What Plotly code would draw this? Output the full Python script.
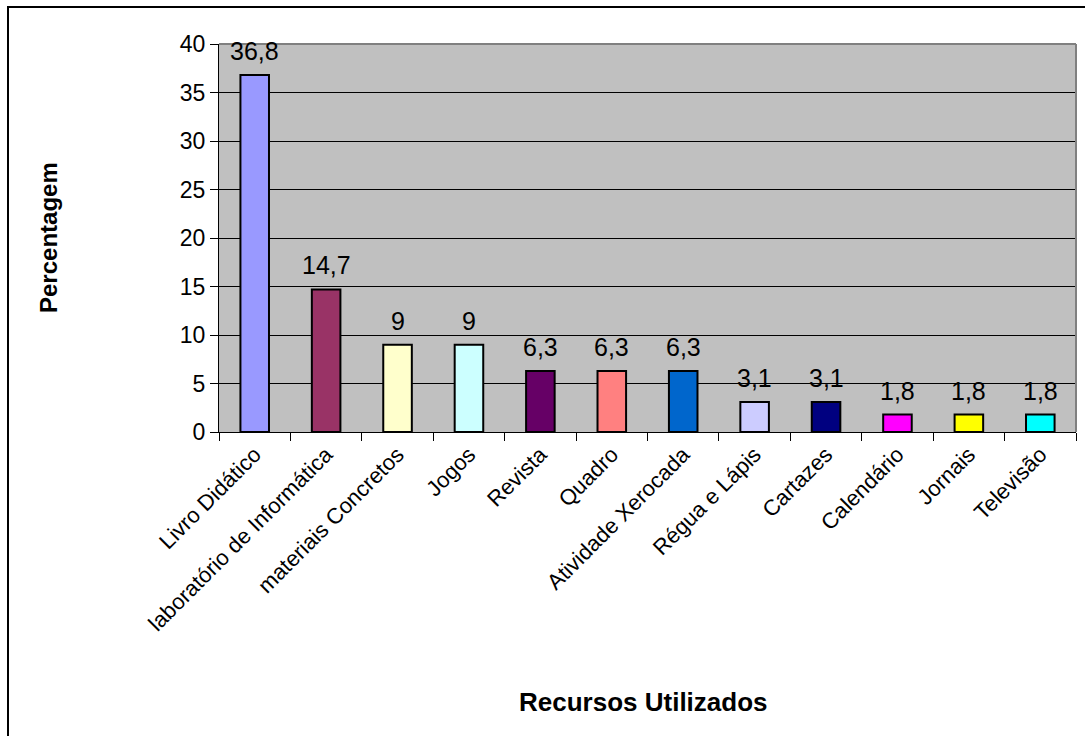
import plotly.graph_objects as go

categories = ["Livro Didático", "laboratório de Informática", "materiais Concretos", "Jogos",
              "Revista", "Quadro", "Atividade Xerocada", "Régua e Lápis", "Cartazes",
              "Calendário", "Jornais", "Televisão"]
values = [36.8, 14.7, 9, 9, 6.3, 6.3, 6.3, 3.1, 3.1, 1.8, 1.8, 1.8]
labels = ["36,8", "14,7", "9", "9", "6,3", "6,3", "6,3", "3,1", "3,1", "1,8", "1,8", "1,8"]
colors = ["#9999FF", "#993366", "#FFFFCC", "#CCFFFF", "#660066", "#FF8080", "#0066CC",
          "#CCCCFF", "#000080", "#FF00FF", "#FFFF00", "#00FFFF"]

W, H = 1085, 736
L, R, T, B = 219, 9, 44, 304
pw, ph = W - L - R, H - T - B

fig = go.Figure(go.Bar(
    x=categories, y=values,
    marker=dict(color=colors, line=dict(color="black", width=2)),
))

fig.update_layout(
    width=W, height=H, margin=dict(l=L, r=R, t=T, b=B, autoexpand=False),
    paper_bgcolor="white", plot_bgcolor="#C0C0C0",
    font=dict(family="Liberation Sans, Arial, sans-serif", color="black"),
    bargap=0.6, showlegend=False,
    xaxis=dict(tickangle=-45, tickfont=dict(size=22), ticks="outside", ticklen=8,
               tickson="boundaries", tickcolor="black", showline=True, linecolor="black",
               linewidth=1, showgrid=False, automargin=False),
    yaxis=dict(range=[0, 40], dtick=5, tickfont=dict(size=23), ticks="outside", ticklen=8,
               tickcolor="black", showline=True, linecolor="black", linewidth=1,
               showgrid=True, gridcolor="black", gridwidth=1, zeroline=False,
               automargin=False),
)

# data labels
for c, v, t in zip(categories, values, labels):
    fig.add_annotation(x=c, y=v, text=t, showarrow=False, yanchor="bottom",
                       yshift=8, font=dict(size=25, color="black"))

shapes = [
    dict(type="line", xref="paper", yref="paper", x0=0, x1=1, y0=1, y1=1,
         line=dict(color="#808080", width=2)),
    dict(type="line", xref="paper", yref="paper", x0=1, x1=1, y0=0, y1=1,
         line=dict(color="#808080", width=2)),
    dict(type="line", xref="paper", yref="paper", x0=(7 - L) / pw, x1=(W - L) / pw,
         y0=1 + (T - 7) / ph, y1=1 + (T - 7) / ph, line=dict(color="black", width=2)),
    dict(type="line", xref="paper", yref="paper", x0=(8 - L) / pw, x1=(8 - L) / pw,
         y0=1 + (T - 7) / ph, y1=-(H - T - ph) / ph, line=dict(color="black", width=2)),
]
fig.update_layout(shapes=shapes)

fig.add_annotation(text="<b>Percentagem</b>", xref="paper", yref="paper",
                   x=(48 - L) / pw, y=1 - (238 - T) / ph, textangle=-90, showarrow=False,
                   font=dict(size=24), xanchor="center", yanchor="middle")
fig.add_annotation(text="<b>Recursos Utilizados</b>", xref="paper", yref="paper",
                   x=(643 - L) / pw, y=-(702 - T - ph) / ph, showarrow=False,
                   font=dict(size=26), xanchor="center", yanchor="middle")

fig.write_html("out.html")
